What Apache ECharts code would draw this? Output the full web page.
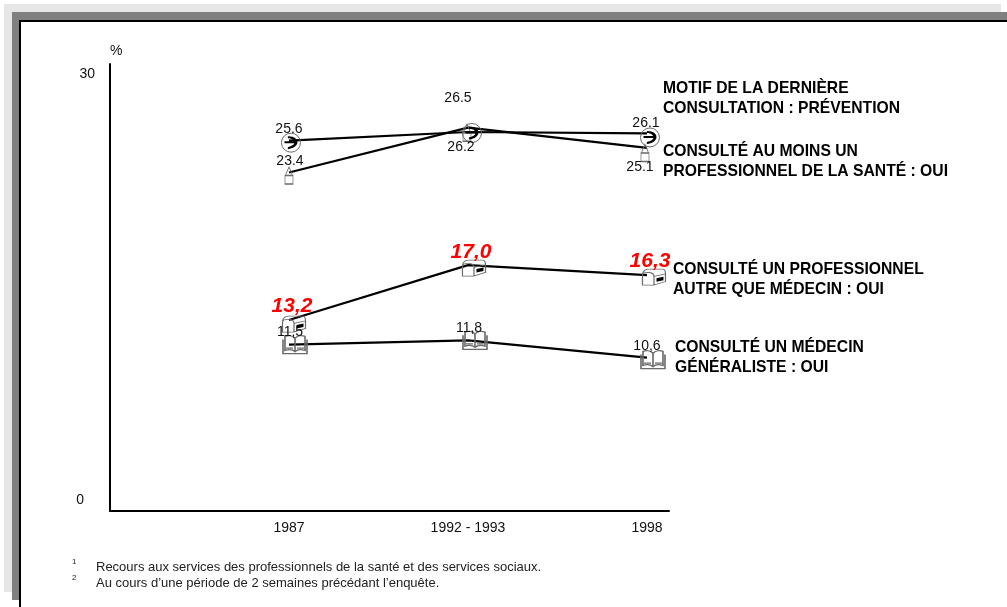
<!DOCTYPE html>
<html><head><meta charset="utf-8">
<style>html,body{margin:0;padding:0;background:#fff}#c{width:1007px;height:607px}</style>
<script src="https://cdn.jsdelivr.net/npm/echarts@6/dist/echarts.min.js"></script>
</head><body><div id="c"></div>
<script>
var categories = ['1987', '1992 - 1993', '1998'];
var yTicks = [0, 30];
var prevention = [25.6, 26.2, 26.1];
var auMoinsUn = [23.4, 26.5, 25.1];
var autreQueMedecin = [13.2, 17.0, 16.3];
var generaliste = [11.5, 11.8, 10.6];

var FONT = '"Liberation Sans", Arial, sans-serif';
var ICON_CIRCLE = 'path://M50 2A48 48 0 1 0 50 98A48 48 0 1 0 50 2Z';
var ICON_CIRCLE_IN = 'path://M36 18C62 18 72 36 70 52C68 70 54 80 36 84V74C50 70 58 62 60 52C60 40 52 28 36 28ZM24 44H60V54H24Z';
var ICON_BOTTLE = 'path://M35 40L50 2L65 40V50H35ZM30 50H70V98H30Z';
var ICON_MAIL = 'path://M4 40C4 15 20 8 30 8H88C98 8 100 20 100 34V76L50 96H4ZM4 40C4 28 18 26 28 26C44 26 52 36 52 48V96M52 48L100 34';
var ICON_MAIL_IN = 'path://M64 52L92 42V66L64 76Z';
var ICON_BOOK = 'path://M50 20C40 4 22 4 10 10V82C24 76 40 76 50 88C60 76 76 76 90 82V10C78 4 60 4 50 20ZM50 20V88M2 26V98H98V26M14 70H42M58 70H86';

function lab(text, off, style) {
  return Object.assign({ show: true, formatter: text, position: 'inside', offset: off,
    color: '#111', fontFamily: FONT, fontSize: 14 }, style || {});
}
var RED = { color: '#ff0000', fontWeight: 'bold', fontStyle: 'italic', fontSize: 21 };

function makeSeries(name, vals, icon, size, symOff, labels, style, bw) {
  return {
    type: 'line', name: name, symbol: icon, symbolSize: size, showSymbol: true,
    lineStyle: { color: '#000', width: 2.2 }, silent: true, animation: false,
    itemStyle: { color: 'rgba(255,255,255,0)', borderColor: '#6a6a6a', borderWidth: bw || 1 },
    data: vals.map(function (v, i) {
      return { value: [i, v], symbolOffset: symOff[i],
        label: lab(labels[i][0], labels[i][1], style) };
    })
  };
}
function overlay(name, vals, icon, size, symOff) {
  return {
    type: 'line', name: name, symbol: icon, symbolSize: size, showSymbol: true, silent: true,
    lineStyle: { width: 0 }, itemStyle: { color: '#000', borderWidth: 0 }, animation: false, z: 5,
    data: vals.map(function (v, i) { return { value: [i, v], symbolOffset: symOff[i] }; })
  };
}
var offCircle = [[2, 2], [4, 1], [3, 4]];
var offMail = [[5, 4], [6, 3], [7, 2]];

var chart = echarts.init(document.getElementById('c'), null, { renderer: 'canvas' });
chart.setOption({
  animation: false,
  grid: { left: 110, top: 64, width: 559, height: 447, containLabel: false },
  xAxis: {
    type: 'value', min: -1, max: 2.123, splitLine: { show: false },
    axisLine: { onZero: false, lineStyle: { color: '#000', width: 2 } }, axisTick: { show: false },
    axisLabel: { customValues: [0, 1, 2], margin: 10, color: '#111', fontFamily: FONT, fontSize: 14,
      formatter: function (v) { return categories[v]; } }
  },
  yAxis: {
    type: 'value', min: 0, max: 30.9, splitLine: { show: false },
    name: '%', nameLocation: 'end', nameGap: 6,
    nameTextStyle: { color: '#111', fontFamily: FONT, fontSize: 14, align: 'left', padding: [0, 0, 0, 0] },
    axisLine: { show: true, onZero: false, lineStyle: { color: '#000', width: 2 } }, axisTick: { show: false },
    axisLabel: { customValues: yTicks, margin: 15, color: '#111', fontFamily: FONT, fontSize: 14,
      formatter: function (v) { return v === 0 ? '{z|' + v + '}' : '{t|' + v + '}'; },
      rich: {
        z: { color: '#111', fontFamily: FONT, fontSize: 14, padding: [0, 11, 22, 0] },
        t: { color: '#111', fontFamily: FONT, fontSize: 14, padding: [0, 0, 6, 0] }
      } }
  },
  series: [
    makeSeries('Prévention', prevention, ICON_CIRCLE, 19, offCircle,
      [['25.6', [-2, -14]], ['26.2', [-11, 14]], ['26.1', [-4, -14]]]),
    overlay('Prévention détail', prevention, ICON_CIRCLE_IN, 13, offCircle),
    makeSeries('Au moins un professionnel', auMoinsUn, ICON_BOTTLE, [8, 17], [[0, 3], [-1, 5], [-2, 5]],
      [['23.4', [1, -14]], ['26.5', [-9, -35]], ['25.1', [-5, 14]]]),
    makeSeries('Autre que médecin', autreQueMedecin, ICON_MAIL, [23, 16], offMail,
      [['13,2', [-2, -18]], ['17,0', [-3, -16]], ['16,3', [-4, -16]]], RED),
    overlay('Autre que médecin détail', autreQueMedecin, ICON_MAIL_IN, [7, 5], [[11, 6], [12, 5], [13, 4]]),
    makeSeries('Médecin généraliste', generaliste, ICON_BOOK, [24, 18], [[6, 0], [7, 0], [6, 2]],
      [['11,5', [-5, -13]], ['11,8', [-6, -12]], ['10,6', [-6, -14]]], null, 1.4)
  ],
  graphic: { elements: [
    { type: 'rect', silent: true, z: -10, shape: { x: 4, y: 4, width: 997, height: 588 }, style: { fill: '#e6e6e6' } },
    { type: 'rect', silent: true, z: -9, shape: { x: 12, y: 12, width: 995, height: 588 }, style: { fill: '#808080' } },
    { type: 'rect', silent: true, z: -8, shape: { x: 19, y: 20, width: 988, height: 587 }, style: { fill: '#000' } },
    { type: 'rect', silent: true, z: -7, shape: { x: 21, y: 22, width: 986, height: 585 }, style: { fill: '#fff' } }
  ].concat([
    ['MOTIF DE LA DERNIÈRE', 663, 89], ['CONSULTATION : PRÉVENTION', 663, 109],
    ['CONSULTÉ AU MOINS UN', 663, 152], ['PROFESSIONNEL DE LA SANTÉ : OUI', 663, 172],
    ['CONSULTÉ UN PROFESSIONNEL', 673, 270], ['AUTRE QUE MÉDECIN : OUI', 673, 290],
    ['CONSULTÉ UN MÉDECIN', 675, 348], ['GÉNÉRALISTE : OUI', 675, 368]
  ].map(function (t) {
    return { type: 'text', silent: true, x: t[1], y: t[2],
      style: { text: t[0], fill: '#000', font: 'bold 15.7px ' + FONT, verticalAlign: 'middle' } };
  })).concat([
    ['Recours aux services des professionnels de la santé et des services sociaux.', 96, 567, 13],
    ['Au cours d’une période de 2 semaines précédant l’enquête.', 96, 583, 13],
    ['1', 72, 562, 8], ['2', 72, 578, 8]
  ].map(function (t) {
    return { type: 'text', silent: true, x: t[1], y: t[2],
      style: { text: t[0], fill: '#222', font: t[3] + 'px ' + FONT, verticalAlign: 'middle' } };
  })) }
});
</script></body></html>
